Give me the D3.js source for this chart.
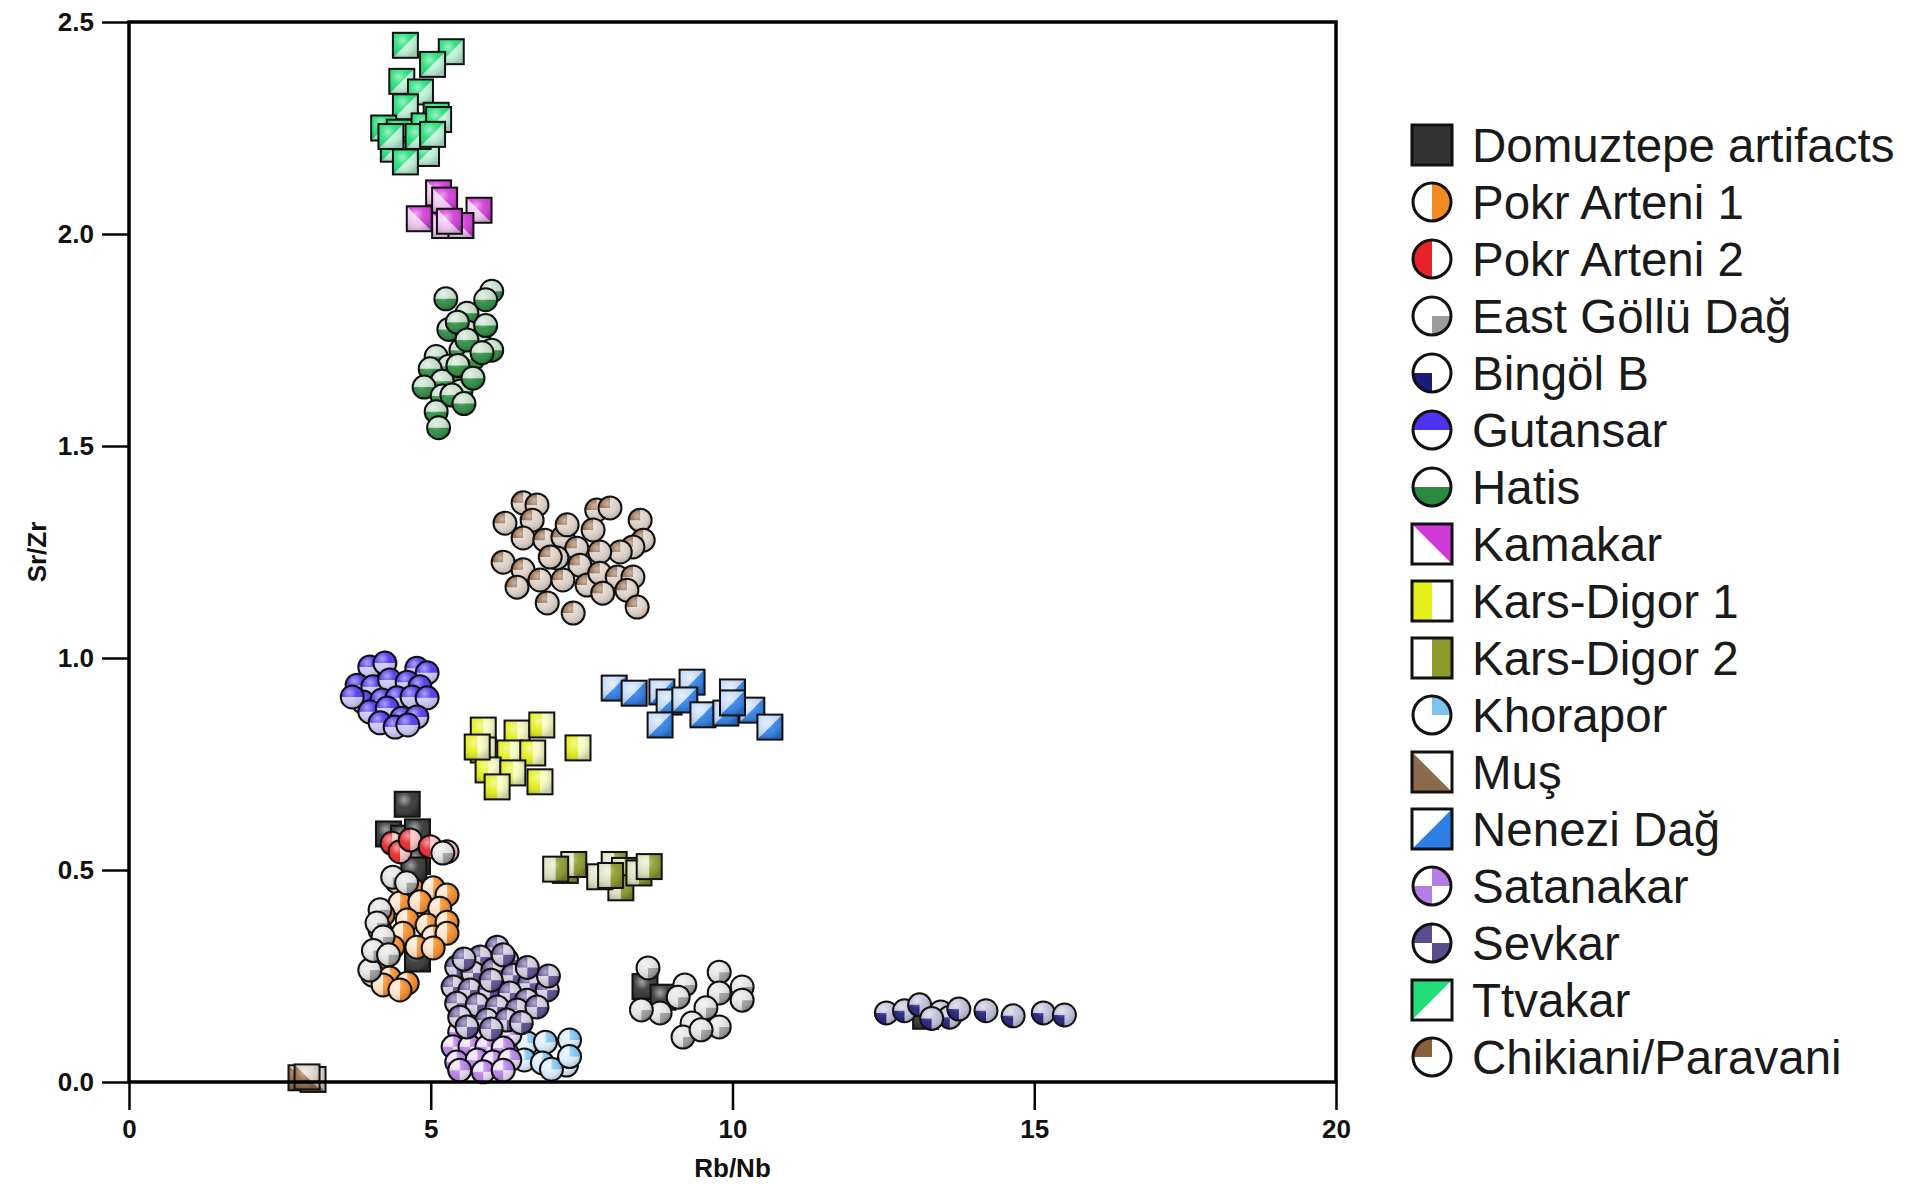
<!DOCTYPE html>
<html>
<head>
<meta charset="utf-8">
<script src="https://cdn.jsdelivr.net/npm/d3@7"></script>
<style>
  body { margin: 0; background: #ffffff; }
  text { font-family: "Liberation Sans", Arial, Helvetica, sans-serif; }
</style>
</head>
<body>
<svg id="chart" width="1927" height="1185"></svg>
<script>
// ---- data (Rb/Nb, Sr/Zr) ----
var xTicks = [0, 5, 10, 15, 20];
var yTicks = [0, 0.5, 1.0, 1.5, 2.0, 2.5];

var seriesNames = ["Domuztepe artifacts", "Pokr Arteni 1", "Pokr Arteni 2", "East Göllü Dağ",
  "Bingöl B", "Gutansar", "Hatis", "Kamakar", "Kars-Digor 1", "Kars-Digor 2", "Khorapor",
  "Muş", "Nenezi Dağ", "Satanakar", "Sevkar", "Ttvakar", "Chikiani/Paravani"];

var domuztepe = [[4.61,0.655],[4.30,0.585],[4.55,0.575],[4.78,0.59],[4.70,0.545],[4.78,0.52],
  [4.72,0.50],[4.78,0.29],[8.55,0.225],[8.85,0.20],[13.2,0.155]];
var pokrArteni1 = [[4.44,0.472],[4.71,0.453],[5.04,0.458],[5.27,0.441],[4.49,0.422],[4.82,0.425],
  [5.15,0.410],[4.21,0.394],[4.61,0.382],[4.94,0.370],[5.27,0.377],[4.16,0.358],[4.54,0.351],
  [5.04,0.342],[5.27,0.351],[4.37,0.318],[4.77,0.318],[5.04,0.316],[4.11,0.288],[4.04,0.252],
  [4.32,0.245],[4.61,0.233],[4.21,0.229],[4.49,0.217]];
var pokrArteni2 = [[4.36,0.563],[4.49,0.543],[4.66,0.571],[4.99,0.555],[5.27,0.543]];
var eastGollu = [[4.37,0.483],[4.16,0.406],[4.11,0.375],[4.21,0.342],[3.99,0.264],[4.05,0.31],
  [4.30,0.30],[5.20,0.54],[4.60,0.47],
  [8.60,0.269],[9.21,0.229],[9.78,0.259],[10.16,0.224],[9.78,0.210],[10.16,0.193],[9.10,0.20],
  [9.56,0.175],[8.80,0.163],[9.33,0.139],[9.18,0.106],[9.78,0.130],[9.48,0.123],[8.49,0.17]];
var bingolB = [[12.55,0.163],[12.85,0.168],[13.1,0.182],[13.45,0.165],[13.6,0.153],[13.75,0.172],
  [14.2,0.168],[14.65,0.156],[15.15,0.163],[15.5,0.158],[13.3,0.15]];
var gutansar = [[3.99,0.979],[4.24,0.988],[4.77,0.976],[4.94,0.965],[3.78,0.936],[4.04,0.932],
  [4.32,0.948],[4.61,0.943],[4.82,0.932],[3.88,0.896],[4.19,0.901],[4.44,0.906],[4.69,0.908],
  [4.94,0.906],[3.70,0.908],[3.99,0.873],[4.28,0.882],[4.52,0.858],[4.77,0.861],[4.16,0.847],
  [4.41,0.837],[4.62,0.842]];
var hatis = [[5.25,1.847],[6.01,1.865],[5.91,1.845],[5.60,1.813],[5.30,1.775],[5.60,1.769],
  [5.80,1.749],[6.01,1.726],[5.50,1.726],[5.09,1.711],[5.70,1.705],[5.30,1.688],[4.99,1.682],
  [5.44,1.668],[5.19,1.653],[4.89,1.639],[5.50,1.630],[5.19,1.618],[5.09,1.581],[5.13,1.543],
  [5.91,1.784],[5.44,1.792],[5.60,1.75],[5.85,1.72],[5.45,1.69],[5.70,1.66],[5.35,1.62],[5.55,1.60]];
var kamakar = [[5.13,2.097],[5.23,2.08],[5.80,2.056],[4.81,2.036],[5.23,2.02],[5.50,2.02],[5.31,2.03]];
var karsDigor1 = [[5.87,0.830],[5.87,0.783],[6.43,0.823],[6.84,0.842],[6.31,0.776],[6.69,0.776],
  [5.95,0.736],[6.36,0.729],[6.81,0.708],[6.10,0.696],[7.44,0.788],[5.77,0.790]];
var karsDigor2 = [[7.23,0.499],[7.37,0.513],[8.04,0.513],[8.21,0.499],[8.15,0.458],[7.80,0.484],
  [8.45,0.493],[8.62,0.508],[7.98,0.487],[7.07,0.502]];
var khorapor = [[6.6,0.092],[6.9,0.094],[7.3,0.099],[6.55,0.052],[6.85,0.045],[7.25,0.04],
  [7.0,0.03],[7.3,0.06]];
var mus = [[2.85,0.01],[3.05,0.006],[2.95,0.012]];
var nenezi = [[8.04,0.929],[8.37,0.917],[8.83,0.920],[9.33,0.943],[8.95,0.896],[9.21,0.901],
  [8.80,0.842],[9.51,0.866],[10.0,0.920],[9.89,0.870],[10.32,0.877],[10.62,0.837],[10.0,0.894]];
var satanakar = [[5.48,0.118],[5.77,0.116],[6.10,0.118],[6.31,0.111],[5.37,0.083],[5.65,0.083],
  [5.93,0.083],[6.20,0.080],[5.43,0.047],[5.77,0.052],[6.03,0.047],[6.31,0.052],[5.48,0.028],
  [5.87,0.024],[6.20,0.028]];
var sevkar = [[6.10,0.318],[5.82,0.295],[6.26,0.288],[5.43,0.271],[5.70,0.257],[6.03,0.264],
  [6.36,0.252],[6.64,0.233],[6.93,0.217],[5.37,0.224],[5.65,0.217],[5.98,0.217],[6.31,0.210],
  [6.59,0.193],[5.43,0.186],[5.77,0.182],[6.10,0.177],[6.43,0.170],[6.76,0.177],[5.48,0.153],
  [5.93,0.146],[6.26,0.146],[5.60,0.13],[6.00,0.125],[6.50,0.14],[6.95,0.25],[6.20,0.30],
  [5.55,0.29],[6.00,0.24],[6.60,0.27]];
var ttvakar = [[4.58,2.445],[5.34,2.43],[5.03,2.40],[4.52,2.36],[4.83,2.335],[4.58,2.30],
  [5.09,2.28],[4.22,2.25],[4.48,2.24],[4.89,2.255],[5.13,2.27],[4.38,2.20],[4.68,2.19],
  [4.93,2.19],[4.58,2.17],[4.34,2.23],[4.79,2.23],[5.03,2.235]];
var chikiani = [[6.53,1.366],[6.76,1.361],[6.23,1.318],[6.68,1.325],[6.53,1.283],[6.89,1.278],
  [7.19,1.285],[7.26,1.314],[7.75,1.349],[7.97,1.354],[8.47,1.325],[7.69,1.302],[8.52,1.278],
  [8.35,1.262],[8.14,1.25],[7.80,1.25],[7.42,1.259],[6.20,1.226],[6.53,1.208],[6.81,1.184],
  [6.43,1.167],[7.09,1.236],[7.47,1.219],[7.19,1.184],[7.59,1.172],[7.80,1.200],[8.09,1.191],
  [8.35,1.191],[8.25,1.160],[7.85,1.153],[6.93,1.130],[7.36,1.106],[8.42,1.120],[6.98,1.238]];

var seriesData = [domuztepe, pokrArteni1, pokrArteni2, eastGollu, bingolB, gutansar, hatis,
  kamakar, karsDigor1, karsDigor2, khorapor, mus, nenezi, satanakar, sevkar, ttvakar, chikiani];

// ---- marker styles ----
var seriesShapes = ["sq-full", "ci-right", "ci-left", "ci-br", "ci-bl", "ci-top", "ci-bottom",
  "sq-tr", "sq-halfL", "sq-halfR", "ci-tr", "sq-bl", "sq-br", "ci-trbl", "ci-tlbr", "sq-tl", "ci-tl"];
var seriesColors = ["#333333", "#f38b25", "#e8242a", "#9c9c9c", "#1c1c78", "#4d33ee", "#2b8a3f",
  "#d23ad8", "#e4ef1c", "#8c9a2a", "#7cc2ef", "#8e6a4c", "#2f7ee6", "#b47de6", "#5a4a8e",
  "#21de78", "#8a5f3c"];

var W = 1927, H = 1185;
var margin = {left: 129, right: W - 1336, top: 22, bottom: H - 1082};
var svg = d3.select("#chart");

var x = d3.scaleLinear().domain([0, 20]).range([margin.left, W - margin.right]);
var y = d3.scaleLinear().domain([0, 2.5]).range([H - margin.bottom, margin.top]);

var defs = svg.append("defs");
var shine = defs.append("radialGradient").attr("id", "shine")
  .attr("cx", "38%").attr("cy", "32%").attr("r", "70%");
shine.append("stop").attr("offset", "0%").attr("stop-color", "#fff").attr("stop-opacity", 0.55);
shine.append("stop").attr("offset", "45%").attr("stop-color", "#fff").attr("stop-opacity", 0.08);
shine.append("stop").attr("offset", "100%").attr("stop-color", "#000").attr("stop-opacity", 0.2);

var PI = Math.PI;
var arcParts = {
  "ci-right": [[0, PI]], "ci-left": [[PI, 2 * PI]], "ci-top": [[-PI / 2, PI / 2]],
  "ci-bottom": [[PI / 2, 3 * PI / 2]], "ci-tr": [[0, PI / 2]], "ci-br": [[PI / 2, PI]],
  "ci-bl": [[PI, 3 * PI / 2]], "ci-tl": [[3 * PI / 2, 2 * PI]],
  "ci-trbl": [[0, PI / 2], [PI, 3 * PI / 2]], "ci-tlbr": [[3 * PI / 2, 2 * PI], [PI / 2, PI]]
};
var sqParts = {
  "sq-full": [[-1,-1],[1,-1],[1,1],[-1,1]],
  "sq-tr": [[-1,-1],[1,-1],[1,1]], "sq-bl": [[-1,-1],[-1,1],[1,1]],
  "sq-br": [[1,-1],[1,1],[-1,1]], "sq-tl": [[-1,-1],[1,-1],[-1,1]],
  "sq-halfL": [[-1,-1],[0,-1],[0,1],[-1,1]], "sq-halfR": [[0,-1],[1,-1],[1,1],[0,1]]
};

function drawMarker(g, shape, color, r, sw, glossy) {
  // in the plot the "white" part carries a faint tint of the series colour
  var base = glossy ? d3.interpolateRgb(color, "#fff")(0.72) : "#fff";
  if (shape.indexOf("ci") === 0) {
    g.append("circle").attr("r", r).attr("fill", base);
    arcParts[shape].forEach(function (a) {
      g.append("path").attr("fill", color)
        .attr("d", d3.arc()({innerRadius: 0, outerRadius: r, startAngle: a[0], endAngle: a[1]}));
    });
    if (glossy) g.append("circle").attr("r", r).attr("fill", "url(#shine)");
    g.append("circle").attr("r", r).attr("fill", "none").attr("stroke", "#111").attr("stroke-width", sw);
  } else {
    g.append("rect").attr("x", -r).attr("y", -r).attr("width", 2 * r).attr("height", 2 * r).attr("fill", base);
    g.append("polygon").attr("fill", color)
      .attr("points", sqParts[shape].map(function (p) { return [p[0] * r, p[1] * r].join(","); }).join(" "));
    if (glossy) g.append("rect").attr("x", -r).attr("y", -r).attr("width", 2 * r).attr("height", 2 * r).attr("fill", "url(#shine)");
    g.append("rect").attr("x", -r).attr("y", -r).attr("width", 2 * r).attr("height", 2 * r)
      .attr("fill", "none").attr("stroke", "#111").attr("stroke-width", sw);
  }
}

// ---- points ----
var plot = svg.append("g");
seriesData.forEach(function (data, i) {
  var shape = seriesShapes[i];
  var r = shape.indexOf("ci") === 0 ? 11.5 : 12.5;
  plot.selectAll(null).data(data).enter().append("g")
    .attr("transform", function (d) { return "translate(" + x(d[0]) + "," + y(d[1]) + ")"; })
    .each(function () { drawMarker(d3.select(this), shape, seriesColors[i], r, 2, true); });
});

// ---- axes and frame ----
svg.append("rect").attr("x", x(0)).attr("y", y(2.5))
  .attr("width", x(20) - x(0)).attr("height", y(0) - y(2.5))
  .attr("fill", "none").attr("stroke", "#000").attr("stroke-width", 3.5);

var xAxis = svg.append("g").attr("transform", "translate(0," + y(0) + ")")
  .call(d3.axisBottom(x).tickValues(xTicks).tickSize(28).tickPadding(10).tickFormat(d3.format("d")));
var yAxis = svg.append("g").attr("transform", "translate(" + x(0) + ",0)")
  .call(d3.axisLeft(y).tickValues(yTicks).tickSize(27).tickPadding(8).tickFormat(d3.format(".1f")));
[xAxis, yAxis].forEach(function (a) {
  a.select(".domain").remove();
  a.selectAll(".tick line").attr("stroke", "#000").attr("stroke-width", 2.5);
  a.selectAll(".tick text").attr("fill", "#111").style("font-size", "26px").style("font-weight", "bold")
    .style("font-family", "'Liberation Sans', Arial, sans-serif");
});

svg.append("text").attr("x", (x(0) + x(20)) / 2).attr("y", 1177)
  .attr("text-anchor", "middle").style("font-size", "26px").style("font-weight", "bold")
  .attr("fill", "#111").text("Rb/Nb");
svg.append("text").attr("transform", "translate(46," + (y(0) + y(2.5)) / 2 + ") rotate(-90)")
  .attr("text-anchor", "middle").style("font-size", "26px").style("font-weight", "bold")
  .attr("fill", "#111").text("Sr/Zr");

// ---- legend ----
var legend = svg.append("g").attr("transform", "translate(1432,145)");
seriesNames.forEach(function (name, i) {
  var row = legend.append("g").attr("transform", "translate(0," + i * 57 + ")");
  var shape = seriesShapes[i];
  var g = row.append("g");
  drawMarker(g, shape, seriesColors[i], shape.indexOf("ci") === 0 ? 19 : 20, 3, false);
  row.append("text").attr("x", 40).attr("y", 0).attr("dy", "0.36em")
    .style("font-size", "47.5px").attr("fill", "#1a1a1a").text(name);
});
</script>
</body>
</html>
